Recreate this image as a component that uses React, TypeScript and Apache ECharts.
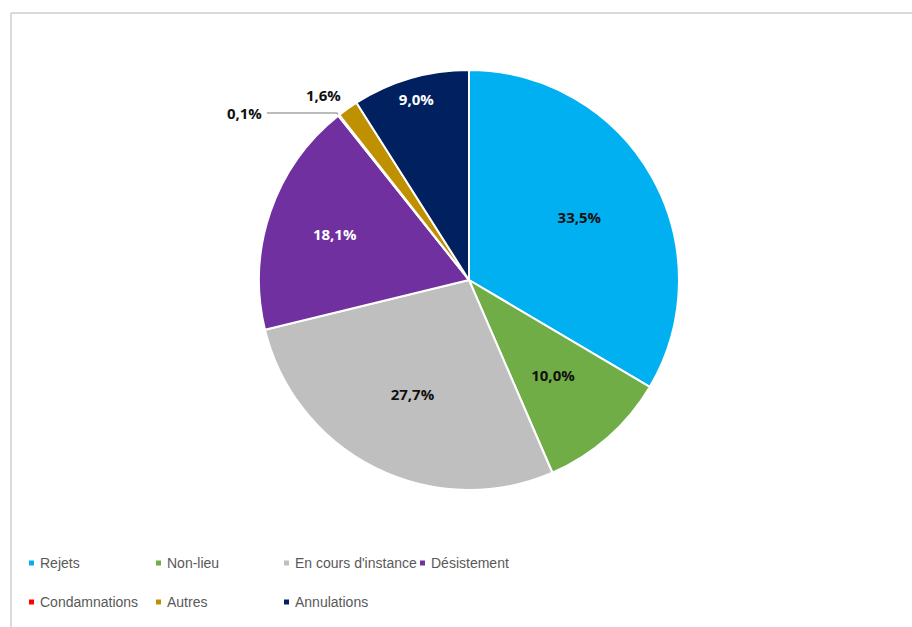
import React, { useEffect, useRef } from "react";
import * as echarts from "echarts";

const categories = ["Rejets", "Non-lieu", "En cours d'instance", "Désistement", "Condamnations", "Autres", "Annulations"];
const values = [33.5, 10.0, 27.7, 18.1, 0.1, 1.6, 9.0];
const colors = ["#00B0F0", "#70AD47", "#BFBFBF", "#7030A0", "#FF0000", "#BF9000", "#002060"];
const labelColors = ["#111111", "#111111", "#111111", "#ffffff", "#111111", "#111111", "#ffffff"];
// label groups (inside labels at different radii, outside labels)
const labelsNear = ["Rejets", "Non-lieu", "En cours d'instance"];
const labelsMid = ["Désistement"];
const labelsFar = ["Annulations"];
const labelsOutsideLine = ["Condamnations"];
const labelsOutsideNoLine = ["Autres"];
// legend columns
const legendColumns = [
  ["Rejets", "Condamnations"],
  ["Non-lieu", "Autres"],
  ["En cours d'instance", "Annulations"],
  ["Désistement"],
];

const fmt = (v: number) => v.toFixed(1).replace(".", ",") + "%";
const CX = 469, CY = 280, R = 210;
const labelFont = { fontFamily: "'Open Sans', 'Liberation Sans', sans-serif", fontWeight: "bold" as const, fontSize: 15 };

export default function App() {
  const ref = useRef<HTMLDivElement>(null);
  useEffect(() => {
    const chart = echarts.init(ref.current!, null, { renderer: "svg" });

    const overlay = (names: string[], r0: number) => ({
      type: "pie",
      center: [CX, CY],
      radius: [r0, R],
      startAngle: 90,
      silent: true,
      animation: false,
      legendHoverLink: false,
      itemStyle: { color: "rgba(0,0,0,0)", borderWidth: 0 },
      label: { show: false },
      labelLine: { show: false },
      emphasis: { disabled: true },
      data: categories.map((n, i) => ({
        name: n,
        value: values[i],
        label: names.includes(n)
          ? { show: true, position: "inside", formatter: fmt(values[i]), color: labelColors[i], ...labelFont }
          : { show: false },
      })),
    });

    const mainData = categories.map((n, i) => {
      const item: any = { name: n, value: values[i], itemStyle: { color: colors[i] } };
      if (labelsOutsideLine.includes(n)) {
        item.label = { show: true, position: "outside", formatter: fmt(values[i]), color: labelColors[i], ...labelFont };
        item.labelLine = { show: true, length: 3, length2: 70, smooth: false, lineStyle: { color: "#a6a6a6", width: 1.5 } };
      } else if (labelsOutsideNoLine.includes(n)) {
        item.label = { show: true, position: "outside", formatter: fmt(values[i]), color: labelColors[i], ...labelFont };
        item.labelLine = { show: false, length: 17, length2: -8 };
      }
      return item;
    });

    const legendFont = { fontFamily: "'Liberation Sans', Arial, sans-serif", fontSize: 14, color: "#595959" };
    const legendLefts = [27, 154, 282, 418];

    chart.setOption({
      animation: false,
      backgroundColor: "#ffffff",
      graphic: [
        { type: "line", shape: { x1: 11, y1: 13, x2: 912, y2: 13 }, style: { stroke: "#d9d9d9", lineWidth: 2 } },
        { type: "line", shape: { x1: 11, y1: 13, x2: 11, y2: 627 }, style: { stroke: "#d9d9d9", lineWidth: 2 } },
      ],
      legend: legendColumns.map((col, k) => ({
        orient: "vertical",
        left: legendLefts[k],
        top: 556,
        padding: 0,
        itemGap: 25,
        itemWidth: 7,
        itemHeight: 7,
        icon: "rect",
        selectedMode: false,
        data: col,
        textStyle: legendFont,
      })),
      series: [
        {
          type: "pie",
          center: [CX, CY],
          radius: [0, R],
          startAngle: 90,
          avoidLabelOverlap: false,
          itemStyle: { borderColor: "#ffffff", borderWidth: 2 },
          label: { show: false },
          labelLine: { show: false },
          emphasis: { disabled: true },
          data: mainData,
        },
        overlay(labelsNear, 38),
        overlay(labelsMid, 68),
        overlay(labelsFar, 162),
      ],
    });
    return () => chart.dispose();
  }, []);
  return <div ref={ref} style={{ position: "absolute", left: 0, top: 0, width: 912, height: 627 }} />;
}
